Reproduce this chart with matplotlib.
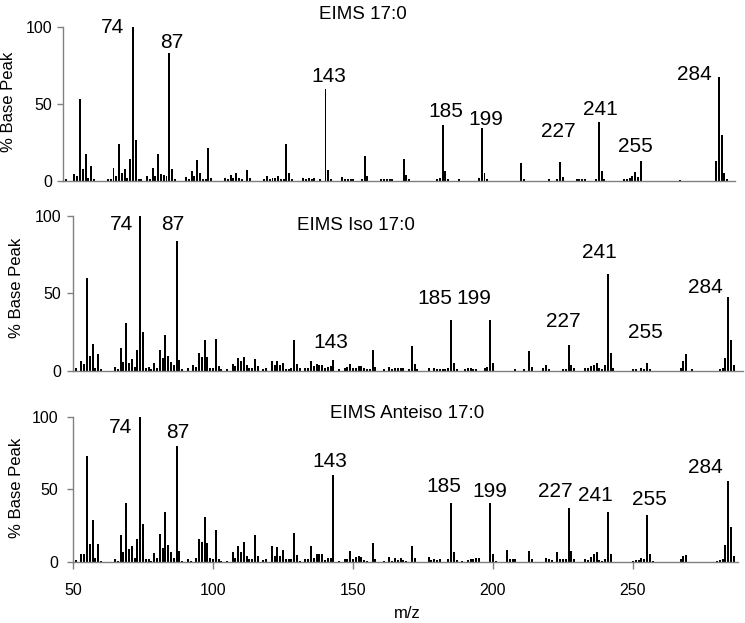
import matplotlib
matplotlib.use('Agg')
import matplotlib.pyplot as plt
from matplotlib import font_manager

plt.rcParams['font.family'] = ['Liberation Sans', 'DejaVu Sans']

# --- EIMS 17:0 ---
mz_n = [50, 53, 54, 55, 56, 57, 58, 59, 60, 65,
        66, 67, 68, 69, 70, 71, 72, 73, 74, 75,
        76, 77, 79, 80, 81, 82, 83, 84, 85, 86,
        87, 88, 89, 93, 94, 95, 96, 97, 98, 99,
        100, 101, 102, 107, 108, 109, 110, 111, 112, 113,
        115, 116, 121, 122, 123, 124, 125, 126, 127, 128,
        129, 130, 131, 135, 136, 137, 138, 139, 141, 143,
        144, 145, 149, 150, 151, 152, 153, 156, 157, 158,
        163, 164, 165, 166, 167, 171, 172, 173, 183, 184,
        185, 186, 187, 191, 198, 199, 200, 201, 213, 214,
        223, 226, 227, 228, 233, 234, 235, 236, 240, 241,
        242, 243, 250, 251, 252, 253, 254, 255, 256, 270,
        283, 284, 285, 286, 287]
int_n = [1, 4.5, 3.5, 53, 8, 17.5, 2, 10, 1, 1,
         1, 8.5, 3.5, 24, 5, 7.5, 2, 14, 100, 26.5,
         1.5, 1.5, 3, 1, 8.5, 3, 17.5, 4.5, 4, 3,
         83, 7.5, 1, 2.5, 1, 6.5, 3.5, 13.5, 5.5, 1,
         1.5, 21.5, 2, 2, 1, 4, 2, 5.5, 2, 1,
         7, 2, 1.5, 3, 1, 2, 2, 3, 1, 1,
         24, 5.5, 1, 2, 1, 2, 1, 2, 1, 59.5,
         7, 1, 2.5, 1, 1.5, 1, 1.5, 1, 16, 3,
         1.5, 1, 1, 1, 1, 14, 4, 1, 1, 2,
         36, 6.5, 1, 1, 2, 34.5, 5.5, 1, 11.5, 1.5,
         1, 1, 12, 2.5, 1.5, 1, 1.5, 1, 1, 38.5,
         6.5, 1, 1, 1.5, 2, 3.5, 6, 2.5, 13, 0.5,
         13, 67.5, 29.5, 5, 1]

# --- EIMS Iso 17:0 ---
mz_iso = [51, 53, 54, 55, 56, 57, 58, 59, 60, 65,
          66, 67, 68, 69, 70, 71, 72, 73, 74, 75,
          76, 77, 78, 79, 80, 81, 82, 83, 84, 85,
          86, 87, 88, 89, 91, 93, 94, 95, 96, 97,
          98, 99, 100, 101, 102, 103, 105, 107, 108, 109,
          110, 111, 112, 113, 114, 115, 116, 118, 119, 121,
          122, 123, 124, 125, 126, 127, 128, 129, 130, 131,
          133, 134, 135, 136, 137, 138, 139, 140, 141, 142,
          143, 145, 147, 148, 149, 150, 151, 152, 153, 154,
          155, 156, 157, 158, 161, 163, 164, 165, 166, 167,
          168, 170, 171, 172, 173, 177, 179, 180, 181, 182,
          183, 184, 185, 186, 187, 190, 191, 192, 193, 194,
          197, 198, 199, 200, 208, 211, 213, 214, 218, 219,
          220, 225, 226, 227, 228, 229, 233, 234, 235, 236,
          237, 238, 239, 240, 241, 242, 243, 250, 251, 253,
          254, 255, 256, 267, 268, 269, 271, 281, 282, 283,
          284, 285, 286]
int_iso = [1.5, 6, 4.5, 60, 9.5, 17.5, 2, 11, 1, 2.5,
           1, 14.5, 5.5, 31, 5, 7.5, 2.5, 13.5, 100, 25,
           2, 2.5, 1, 5, 2, 13.5, 8, 23, 9.5, 5.5,
           3.5, 84, 7, 1, 1.5, 4, 2.5, 11.5, 9, 20,
           9, 2, 1.5, 20.5, 3, 1, 1, 4.5, 3, 8,
           6.5, 9, 4, 2, 1.5, 7.5, 3, 1, 1.5, 6,
           3.5, 6, 3.5, 5, 1, 1, 1.5, 20, 4.5, 1.5,
           2, 2, 6, 3, 4.5, 3.5, 3.5, 1.5, 2.5, 3,
           7, 1, 1.5, 2.5, 4.5, 1.5, 2, 3, 3, 2,
           1, 1, 13.5, 2.5, 1, 2.5, 1, 2, 1.5, 2,
           1.5, 1, 16, 4.5, 1, 1.5, 1.5, 1, 1, 1,
           1, 2, 33, 5, 1, 1, 1.5, 1.5, 1, 1,
           1.5, 2.5, 33, 5, 1, 1, 12.5, 2.5, 1.5, 3.5,
           1, 1, 1, 16.5, 3.5, 1.5, 1.5, 1.5, 3, 4,
           5, 2, 1, 3.5, 62.5, 11.5, 1.5, 1, 1, 2,
           1, 5, 1, 2, 6, 11, 1, 1, 1.5, 8,
           47.5, 20, 3.5]

# --- EIMS Anteiso 17:0 ---
mz_ai = [51, 53, 54, 55, 56, 57, 58, 59, 60, 65,
         66, 67, 68, 69, 70, 71, 72, 73, 74, 75,
         76, 77, 78, 79, 80, 81, 82, 83, 84, 85,
         86, 87, 88, 89, 91, 92, 94, 95, 96, 97,
         98, 99, 100, 101, 102, 103, 105, 107, 108, 109,
         110, 111, 112, 113, 114, 115, 116, 118, 119, 121,
         122, 123, 124, 125, 126, 127, 128, 129, 130, 131,
         133, 134, 135, 136, 137, 138, 139, 140, 141, 142,
         143, 145, 147, 148, 149, 150, 151, 152, 153, 154,
         155, 157, 158, 161, 163, 164, 165, 166, 167, 168,
         169, 171, 172, 177, 178, 179, 180, 181, 184, 185,
         186, 187, 189, 191, 192, 193, 194, 195, 199, 200,
         201, 205, 206, 207, 208, 213, 214, 219, 220, 221,
         223, 224, 225, 226, 227, 228, 229, 233, 234, 235,
         236, 237, 238, 239, 240, 241, 242, 250, 251, 252,
         253, 254, 255, 256, 257, 267, 268, 269, 280, 281,
         282, 283, 284, 285, 286]
int_ai = [1.5, 6, 6, 73, 12.5, 29, 3, 12.5, 1, 2.5,
          1, 18.5, 7, 40.5, 9, 11.5, 3, 16, 100, 26.5,
          2, 2.5, 1, 6.5, 3, 19.5, 10, 34.5, 12, 7,
          3, 80, 7.5, 1, 2, 1, 3, 16, 14, 31,
          13.5, 3, 2, 22, 2, 1, 1, 7, 3, 11.5,
          7, 14, 4.5, 2, 2, 18.5, 4, 1.5, 2, 11.5,
          4, 10.5, 4.5, 8.5, 2, 2.5, 2, 20, 5, 1,
          2, 2.5, 11.5, 3, 6, 5.5, 5.5, 1.5, 3, 3,
          60, 1, 2, 2.5, 8, 2, 3.5, 4, 3.5, 1.5,
          1, 13.5, 2, 1, 3.5, 1, 3, 1.5, 3, 1.5,
          1, 11.5, 3, 3.5, 1.5, 2, 1.5, 2, 2.5, 41,
          7, 1.5, 1, 1.5, 2, 2.5, 3, 3, 41, 6,
          1, 8.5, 2.5, 2, 2, 8, 2, 3, 2, 1.5,
          7, 2, 2, 2.5, 37.5, 7.5, 2, 2, 1.5, 3.5,
          6, 7, 1.5, 1, 2, 34.5, 6, 1, 1.5, 1.5,
          3, 2, 32.5, 6, 1, 2, 4.5, 5, 1, 1.5,
          2, 12, 56, 24.5, 4]

peak_labels = ['74', '87', '143', '185', '199', '227', '241', '255', '284']
# label anchor (m/z, % base peak) for each panel
lab_x_n = [66.5, 88, 144.2, 186.2, 200.5, 226.3, 241.4, 254, 275.3]
lab_y_n = [95.7, 86, 64.4, 41.7, 36.3, 28.7, 42.8, 19, 65.5]
lab_x_iso = [67.5, 85.7, 142.1, 179.3, 193.2, 225, 237.9, 254.6, 276]
lab_y_iso = [91, 91, 14.5, 42.9, 42.9, 28.5, 72.6, 20.9, 50]
lab_x_ai = [66.8, 87.5, 141.8, 182.5, 198.8, 222.1, 236.4, 255.7, 276]
lab_y_ai = [88.6, 85.2, 65.7, 48.5, 45, 45, 42.3, 39.4, 61.1]

titles = ['EIMS 17:0', 'EIMS Iso 17:0', 'EIMS Anteiso 17:0']
title_pos = [(156.4, 104.8), (151, 91), (169.3, 98.9)]

try:
    font_manager.findfont(font_manager.FontProperties(family='Liberation Sans Narrow'),
                          fallback_to_default=False)
    peak_font, peak_size = 'Liberation Sans Narrow', 16.5
except ValueError:
    peak_font, peak_size = 'Liberation Sans', 15

W, H = 745, 623
fig = plt.figure(figsize=(W / 100, H / 100), dpi=100)

boxes = [(63, 181, 672, 154.3), (73, 370.7, 670, 154.7), (73, 562.3, 665, 145.6)]
xlims = [(48.9, 289.8), (50, 289.3), (50, 287.5)]
data = [(mz_n, int_n), (mz_iso, int_iso), (mz_ai, int_ai)]
labs = [(lab_x_n, lab_y_n), (lab_x_iso, lab_y_iso), (lab_x_ai, lab_y_ai)]
ypads = [3.5, 4.5, 6.5]
grey = '#808080'

for i in range(3):
    l, b, w, h = boxes[i]
    ax = fig.add_axes([l / W, 1 - b / H, w / W, h / H])
    mz, inten = data[i]
    ax.bar(mz, inten, width=0.7, color='black', linewidth=0)
    ax.set_xlim(*xlims[i])
    ax.set_ylim(0, 100)
    for s in ['top', 'right']:
        ax.spines[s].set_visible(False)
    for s in ['left', 'bottom']:
        ax.spines[s].set_color(grey)
        ax.spines[s].set_linewidth(1.0)
    ax.set_yticks([0, 50, 100])
    ax.tick_params(axis='y', colors=grey, labelcolor='black', labelsize=11.5,
                   length=4, width=1, pad=ypads[i])
    if i < 2:
        ax.set_xticks([])
    else:
        ax.set_xticks([50, 100, 150, 200, 250])
        ax.tick_params(axis='x', colors=grey, labelcolor='black', labelsize=11.5,
                       length=5, width=1, pad=10)
    lx, ly = labs[i]
    for t, x, y in zip(peak_labels, lx, ly):
        ax.text(x, y, t, ha='center', va='baseline', fontsize=peak_size,
                family=peak_font, clip_on=False)
    tx, ty = title_pos[i]
    ax.text(tx, ty, titles[i], ha='center', va='baseline', fontsize=13.5, clip_on=False)

for yc, xc in [(102, 8.5), (288, 17), (488, 17)]:
    fig.text(xc / W, 1 - yc / H, '% Base Peak', rotation=90, ha='center', va='center',
             fontsize=12)
fig.text(407 / W, 1 - 613 / H, 'm/z', ha='center', va='center', fontsize=12)

fig.savefig('out.png', dpi=100)
